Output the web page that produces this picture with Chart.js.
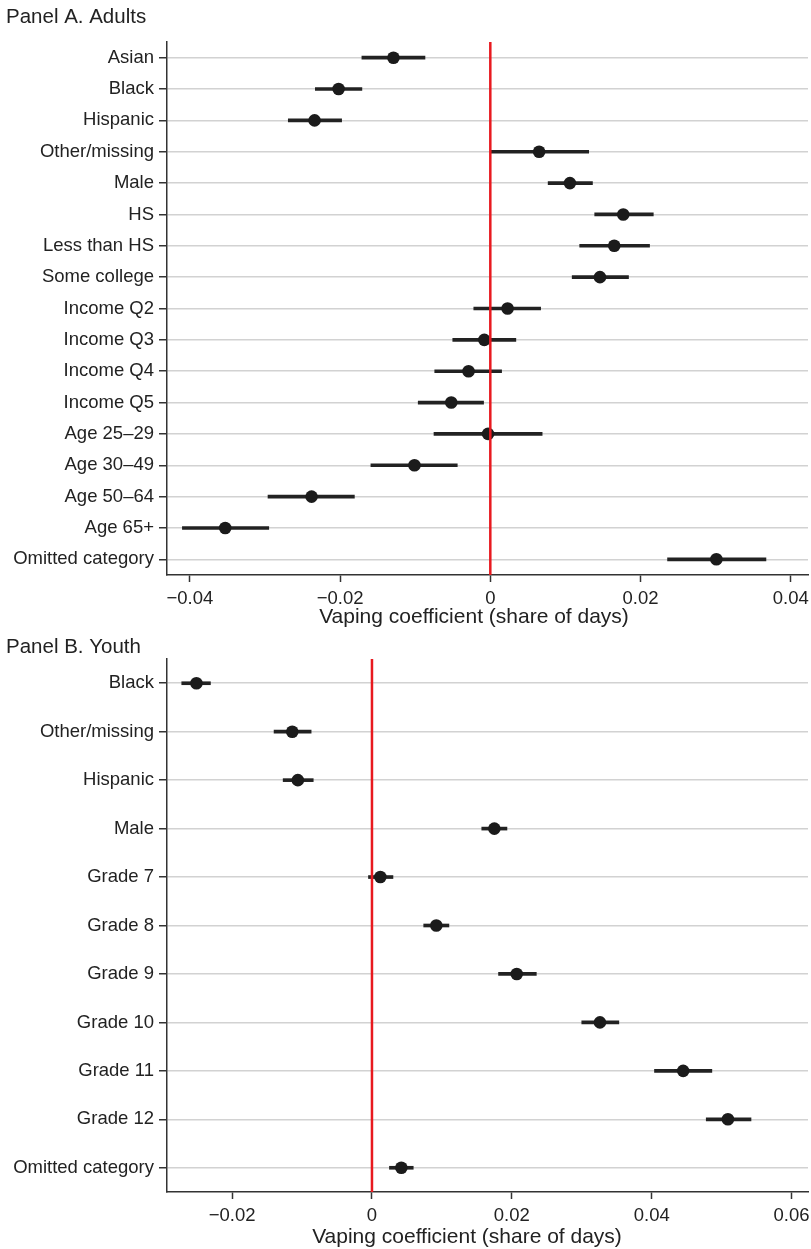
<!DOCTYPE html>
<html>
<head>
<meta charset="utf-8">
<script src="https://cdn.jsdelivr.net/npm/chart.js@4.4.1/dist/chart.umd.min.js"></script>
<style>
  body { margin: 0; background: #fff; }
  .panel { position: absolute; left: 0; }
  #panelA { top: 0; }
  #panelB { top: 630px; }
</style>
</head>
<body>
<canvas id="panelA" class="panel" width="811" height="630"></canvas>
<canvas id="panelB" class="panel" width="811" height="619"></canvas>
<script>
// Panel A: adults
const adultLabels = ["Asian", "Black", "Hispanic", "Other/missing", "Male", "HS", "Less than HS",
  "Some college", "Income Q2", "Income Q3", "Income Q4", "Income Q5", "Age 25\u201329",
  "Age 30\u201349", "Age 50\u201364", "Age 65+", "Omitted category"];
const adultCoef = [-0.0129, -0.0202, -0.0234, 0.0065, 0.0106, 0.0177, 0.0165, 0.0146, 0.0023,
  -0.0008, -0.0029, -0.0052, -0.0003, -0.0101, -0.0238, -0.0353, 0.0301];
const adultLow = [-0.0171, -0.0233, -0.0269, 0.0000, 0.0077, 0.0139, 0.0119, 0.0109, -0.0022,
  -0.0050, -0.0074, -0.0096, -0.0075, -0.0159, -0.0296, -0.0410, 0.0236];
const adultHigh = [-0.0087, -0.0171, -0.0198, 0.0131, 0.0136, 0.0217, 0.0212, 0.0184, 0.0067,
  0.0034, 0.0015, -0.0009, 0.0069, -0.0044, -0.0181, -0.0295, 0.0367];
const adultTicks = [-0.04, -0.02, 0, 0.02, 0.04];

// Panel B: youth
const youthLabels = ["Black", "Other/missing", "Hispanic", "Male", "Grade 7", "Grade 8",
  "Grade 9", "Grade 10", "Grade 11", "Grade 12", "Omitted category"];
const youthCoef = [-0.0251, -0.0114, -0.0106, 0.0175, 0.0012, 0.0092, 0.0207, 0.0326, 0.0445, 0.0509, 0.0042];
const youthLow = [-0.0272, -0.0140, -0.0127, 0.0157, -0.0005, 0.0074, 0.0181, 0.0300, 0.0404, 0.0478, 0.0025];
const youthHigh = [-0.0231, -0.0087, -0.0084, 0.0193, 0.0030, 0.0110, 0.0235, 0.0353, 0.0486, 0.0542, 0.0059];
const youthTicks = [-0.02, 0, 0.02, 0.04, 0.06];

const axisTitle = "Vaping coefficient (share of days)";
const FONT = "'Liberation Sans', Arial, Helvetica, sans-serif";

Chart.defaults.font.family = FONT;
Chart.defaults.color = "#222";

function fmtTick(v) {
  if (Math.abs(v) < 1e-9) return "0";
  const s = Math.abs(v).toFixed(2);
  return v < 0 ? "\u2212" + s : s;
}

// red reference line at zero, drawn over the markers
const zeroLine = {
  id: "zeroLine",
  afterDatasetsDraw(chart) {
    const x = chart.scales.x.getPixelForValue(0);
    const area = chart.chartArea;
    const ctx = chart.ctx;
    ctx.save();
    ctx.strokeStyle = "#e8191f";
    ctx.lineWidth = 2.5;
    ctx.beginPath();
    ctx.moveTo(x, area.top);
    ctx.lineTo(x, area.bottom);
    ctx.stroke();
    ctx.restore();
  }
};

// panel heading and x axis title
const panelText = {
  id: "panelText",
  afterDraw(chart, args, opts) {
    const ctx = chart.ctx;
    ctx.save();
    ctx.fillStyle = "#222";
    ctx.textBaseline = "alphabetic";
    ctx.font = "20.5px " + FONT;
    ctx.textAlign = "left";
    ctx.fillText(opts.title, 6, opts.titleY);
    ctx.font = "21px " + FONT;
    ctx.textAlign = "center";
    ctx.fillText(axisTitle, opts.axisX, chart.chartArea.bottom + opts.axisGap);
    ctx.restore();
  }
};

function makePanel(id, labels, coef, low, high, ticks, xmin, xmax, plotTop, plotBottom, text) {
  const canvas = document.getElementById(id);
  const H = canvas.height;
  return new Chart(canvas, {
    type: "bar",
    data: {
      labels: labels,
      datasets: [
        {
          type: "line",
          data: coef,
          showLine: false,
          pointRadius: 6.3,
          pointHoverRadius: 6.3,
          pointBackgroundColor: "#1b1b1b",
          pointBorderWidth: 0,
          order: 0
        },
        {
          type: "bar",
          data: low.map((v, i) => [v, high[i]]),
          backgroundColor: "#222",
          borderWidth: 0,
          barThickness: 3,
          order: 1
        }
      ]
    },
    options: {
      responsive: false,
      animation: false,
      indexAxis: "y",
      layout: { autoPadding: false, padding: { top: plotTop, right: 3, bottom: 0, left: 0 } },
      plugins: {
        legend: { display: false },
        tooltip: { enabled: false },
        panelText: text
      },
      scales: {
        x: {
          type: "linear",
          min: xmin,
          max: xmax,
          afterBuildTicks(scale) {
            scale.ticks = ticks.map(v => ({ value: v }));
          },
          afterFit(scale) {
            scale.height = H - plotBottom;
            scale.paddingLeft = 0;
            scale.paddingRight = 0;
          },
          grid: { drawOnChartArea: false, drawTicks: true, tickLength: 7, tickColor: "#333", tickWidth: 1.5 },
          border: { color: "#333", width: 1.5 },
          ticks: { callback: v => fmtTick(v), font: { size: 18.5 }, color: "#222", padding: 6, maxRotation: 0 }
        },
        y: {
          type: "category",
          offset: true,
          afterFit(scale) {
            scale.width = 167;
            scale.paddingTop = 0;
            scale.paddingBottom = 0;
          },
          grid: { offset: false, color: "#d2d2d2", lineWidth: 1.5, tickColor: "#333", tickLength: 8, tickWidth: 1.5 },
          border: { color: "#333", width: 1.5 },
          ticks: { font: { size: 18.5 }, color: "#222", padding: 5, autoSkip: false }
        }
      }
    },
    plugins: [zeroLine, panelText]
  });
}

makePanel("panelA", adultLabels, adultCoef, adultLow, adultHigh, adultTicks,
  -0.04305, 0.0423, 42, 575,
  { title: "Panel A. Adults", titleY: 23, axisX: 474, axisGap: 48 });

makePanel("panelB", youthLabels, youthCoef, youthLow, youthHigh, youthTicks,
  -0.02931, 0.06235, 29, 562,
  { title: "Panel B. Youth", titleY: 23, axisX: 467, axisGap: 51 });
</script>
</body>
</html>
